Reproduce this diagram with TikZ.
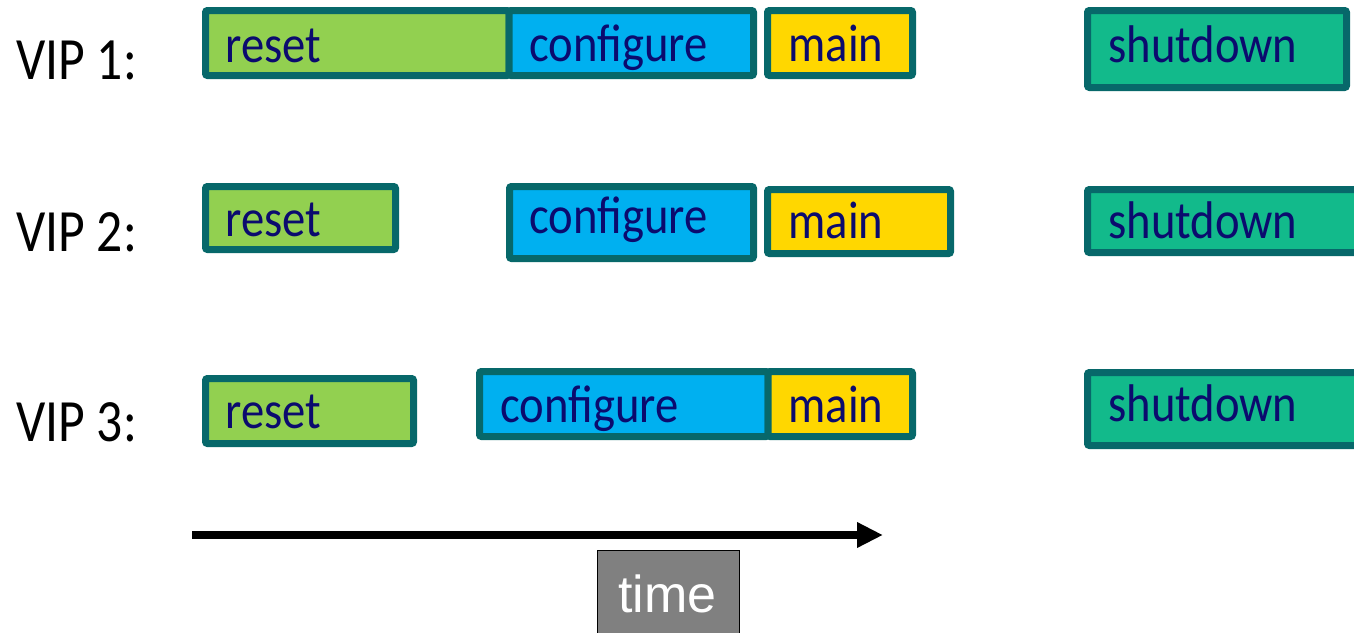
\documentclass[tikz,border=0pt]{standalone}
\usepackage{fontspec}
\usetikzlibrary{arrows.meta}
\newfontfamily\phasefont{Carlito}[FakeStretch=0.88]
\newfontfamily\vipfont{Carlito}[FakeStretch=0.86]
\newfontfamily\timefont{Liberation Sans}
\definecolor{edgeteal}{HTML}{07686A}
\definecolor{resetgreen}{HTML}{92D050}
\definecolor{configblue}{HTML}{00B0F0}
\definecolor{maingold}{HTML}{FFD700}
\definecolor{shutgreen}{HTML}{12BA8B}
\definecolor{labelnavy}{HTML}{0B0B6E}
\definecolor{timegray}{HTML}{808080}

% one phase box, given by the corners of its border line
\newcommand{\stage}[6]{%
  \pgfmathsetmacro\stw{(#4-#2)/2}%
  \pgfmathsetmacro\sth{(#5-#3)/2}%
  \node[phase, fill=#6, minimum width=\stw pt, minimum height=\sth pt,
        anchor=north west] (#1) at (#2,#3) {};}

\begin{document}
\begin{tikzpicture}[x=0.5pt, y=-0.5pt,
  phase/.style={draw=edgeteal, line width=3.5pt, rounded corners=1pt,
                rectangle, inner sep=0pt, outer sep=0pt},
  phasetext/.style={text=labelnavy, inner sep=0pt, anchor=base west,
                    font=\phasefont\fontsize{26.5}{28}\selectfont},
  viptext/.style={text=black, inner sep=0pt, anchor=base west,
                  font=\vipfont\fontsize{30}{32}\selectfont},
  timebox/.style={draw=black, line width=0.5pt, fill=timegray, rectangle,
                  inner sep=0pt, outer sep=0pt, anchor=north west},
  timetext/.style={text=white, inner sep=0pt, anchor=base west,
                   font=\timefont\fontsize{26}{28}\selectfont},
  timearrow/.style={line width=4pt, -{Triangle[length=13pt, width=12pt]}}]

\useasboundingbox (0,0) rectangle (1354,632);
\clip (0,0) rectangle (1354,632);

% row labels
\node[viptext] (vip1) at (16,79) {VIP 1:};
\node[viptext] (vip2) at (16,251) {VIP 2:};
\node[viptext] (vip3) at (16,441) {VIP 3:};

% VIP 1
\stage{reset1}{205.5}{10.5}{509}{75.5}{resetgreen}
\stage{config1}{509}{10.5}{753.5}{75.5}{configblue}
\stage{main1}{767.5}{10.5}{912.5}{75.5}{maingold}
\stage{shut1}{1087.5}{10.5}{1346.5}{87.5}{shutgreen}
\node[phasetext] (reset1t) at (225,62) {reset};
\node[phasetext] (config1t) at (529,61) {configure};
\node[phasetext] (main1t) at (788,61) {main};
\node[phasetext] (shut1t) at (1108,62) {shutdown};

% VIP 2
\stage{reset2}{205.5}{186.5}{395.5}{249.5}{resetgreen}
\stage{config2}{509.5}{186.5}{753.5}{258.5}{configblue}
\stage{main2}{767.5}{189.5}{950.5}{253.5}{maingold}
\stage{shut2}{1087.5}{189.5}{1380}{252.5}{shutgreen}
\node[phasetext] (reset2t) at (225,236) {reset};
\node[phasetext] (config2t) at (529,233) {configure};
\node[phasetext] (main2t) at (788,238) {main};
\node[phasetext] (shut2t) at (1108,238) {shutdown};

% VIP 3
\stage{reset3}{205.5}{378.5}{413.5}{443.5}{resetgreen}
\stage{config3}{479.5}{371.5}{768}{436.5}{configblue}
\stage{main3}{768}{371.5}{912.5}{436.5}{maingold}
\stage{shut3}{1087.5}{372.5}{1380}{445.5}{shutgreen}
\node[phasetext] (reset3t) at (225,428) {reset};
\node[phasetext] (config3t) at (500,422) {configure};
\node[phasetext] (main3t) at (788,422) {main};
\node[phasetext] (shut3t) at (1108,421) {shutdown};

% time axis
\coordinate (tstart) at (192,535);
\coordinate (tend) at (883,535);
\draw[timearrow] (tstart) -- (tend);
\node[timebox, minimum width=71pt, minimum height=45pt] (timeb) at (597,550) {};
\node[timetext] (timet) at (618,612) {time};

\end{tikzpicture}
\end{document}
